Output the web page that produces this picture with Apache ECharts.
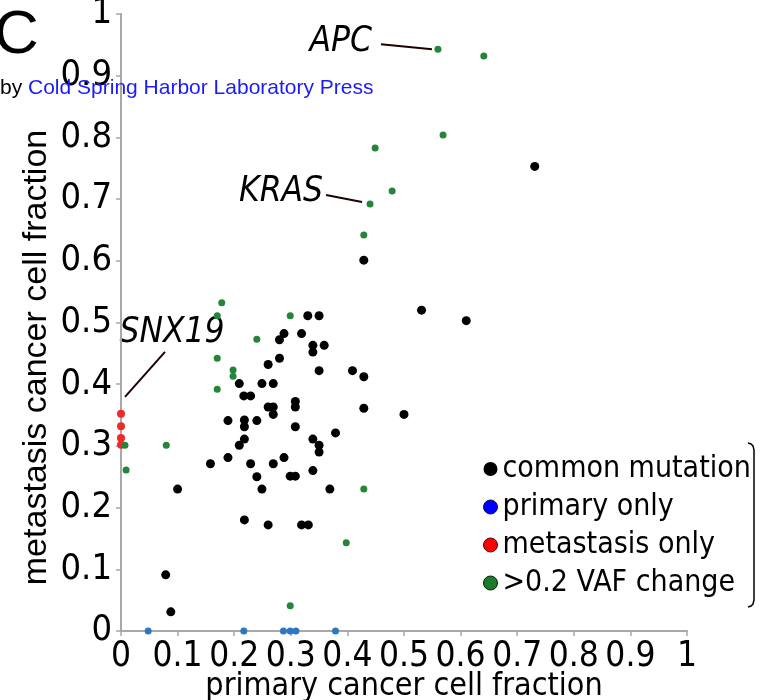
<!DOCTYPE html>
<html>
<head>
<meta charset="utf-8">
<script src="https://cdn.jsdelivr.net/npm/echarts@6/dist/echarts.min.js"></script>
<style>
  html, body { margin: 0; background: #fff; }
  #chart { width: 760px; height: 700px; }
</style>
</head>
<body>
<div id="chart"></div>
<script>
// values: [primary CCF, metastasis CCF]
const commonMutation = [
  [0.100, 0.230], [0.249, 0.230], [0.369, 0.230], [0.218, 0.180], [0.260, 0.172],
  [0.319, 0.172], [0.331, 0.172], [0.079, 0.091], [0.088, 0.031], [0.189, 0.341],
  [0.218, 0.342], [0.218, 0.331], [0.240, 0.341], [0.269, 0.351], [0.218, 0.311],
  [0.209, 0.301], [0.189, 0.281], [0.158, 0.271], [0.229, 0.271], [0.269, 0.271],
  [0.240, 0.250], [0.308, 0.331], [0.379, 0.321], [0.339, 0.311], [0.350, 0.301],
  [0.350, 0.290], [0.288, 0.281], [0.339, 0.260], [0.299, 0.251], [0.308, 0.251],
  [0.330, 0.511], [0.350, 0.511], [0.288, 0.482], [0.319, 0.482], [0.280, 0.472],
  [0.339, 0.463], [0.339, 0.452], [0.359, 0.463], [0.280, 0.442], [0.350, 0.422],
  [0.409, 0.422], [0.429, 0.412], [0.260, 0.432], [0.269, 0.401], [0.308, 0.372],
  [0.308, 0.363], [0.269, 0.363], [0.260, 0.363], [0.429, 0.361], [0.209, 0.401],
  [0.249, 0.401], [0.217, 0.381], [0.229, 0.381], [0.531, 0.520], [0.500, 0.351],
  [0.731, 0.753], [0.610, 0.503], [0.429, 0.601]
];
const primaryOnly = [
  [0.048, 0], [0.217, 0], [0.287, 0], [0.299, 0], [0.309, 0], [0.379, 0]
];
const metastasisOnly = [
  [0, 0.352], [0, 0.332], [0, 0.313], [0, 0.302]
];
const vafChange = [
  [0.560, 0.943], [0.641, 0.932], [0.569, 0.804], [0.449, 0.783], [0.479, 0.713],
  [0.440, 0.692], [0.429, 0.642], [0.178, 0.532], [0.170, 0.511], [0.299, 0.511],
  [0.240, 0.473], [0.170, 0.442], [0.198, 0.423], [0.198, 0.413], [0.170, 0.392],
  [0.007, 0.301], [0.080, 0.301], [0.009, 0.261], [0.429, 0.230], [0.398, 0.143],
  [0.299, 0.041]
];
const seriesNames = ['common mutation', 'primary only', 'metastasis only', '>0.2 VAF change'];
const genes = [
  { name: 'APC', point: [0.560, 0.943] },
  { name: 'KRAS', point: [0.440, 0.692] },
  { name: 'SNX19', point: [0, 0.352] }
];

const narrow = "'DejaVu Sans Condensed', 'Liberation Sans Narrow', sans-serif";
const regular = "'Liberation Sans', Arial, sans-serif";

const chart = echarts.init(document.getElementById('chart'));

const axisCommon = {
  type: 'value',
  min: 0,
  max: 1,
  interval: 0.1,
  splitLine: { show: false },
  axisLine: { show: true, lineStyle: { color: '#a8a8a8', width: 2 } },
  axisTick: { show: true, length: 5, lineStyle: { color: '#a8a8a8', width: 1.5 } },
  axisLabel: {
    color: '#000',
    fontFamily: narrow,
    fontSize: 36,
    formatter: v => String(+v.toFixed(1))
  },
  nameLocation: 'middle',
  nameMoveOverlap: false,
  nameTextStyle: { color: '#000' }
};

chart.setOption({
  animation: false,
  backgroundColor: '#fff',
  grid: { left: 121, right: 73, top: 14, bottom: 69, outerBoundsMode: 'none', containLabel: false },
  xAxis: Object.assign({}, axisCommon, {
    name: 'primary cancer cell fraction',
    nameGap: 40,
    nameTextStyle: { color: '#000', fontFamily: narrow, fontSize: 32 },
    axisLabel: Object.assign({}, axisCommon.axisLabel, { margin: 8, fontSize: 35 })
  }),
  yAxis: Object.assign({}, axisCommon, {
    name: 'metastasis cancer cell fraction',
    nameGap: 67,
    nameTextStyle: { color: '#000', fontFamily: regular, fontSize: 34, padding: [0, 70, 0, 0] },
    axisLabel: Object.assign({}, axisCommon.axisLabel, { margin: 9 })
  }),
  legend: {
    orient: 'vertical',
    left: 478,
    top: 449,
    itemWidth: 14,
    itemHeight: 14,
    itemGap: 8,
    icon: 'circle',
    textStyle: { color: '#000', fontFamily: narrow, fontSize: 30 },
    data: [
      { name: seriesNames[0], itemStyle: { color: '#000' } },
      { name: seriesNames[1], itemStyle: { color: '#0000ff', borderColor: '#101040', borderWidth: 1 } },
      { name: seriesNames[2], itemStyle: { color: '#ff0000', borderColor: '#401010', borderWidth: 1 } },
      { name: seriesNames[3], itemStyle: { color: '#1b7a2c', borderColor: '#0a200a', borderWidth: 1 } }
    ]
  },
  series: [
    { name: seriesNames[0], type: 'scatter', data: commonMutation, symbolSize: 9, clip: false,
      itemStyle: { color: '#000', opacity: 1 } },
    { name: seriesNames[1], type: 'scatter', data: primaryOnly, symbolSize: 7, clip: false,
      itemStyle: { color: '#2f76c2', opacity: 1 } },
    { name: seriesNames[2], type: 'scatter', data: metastasisOnly, symbolSize: 8, clip: false,
      itemStyle: { color: '#ee2a2a', opacity: 1 } },
    { name: seriesNames[3], type: 'scatter', data: vafChange, symbolSize: 7, clip: false,
      itemStyle: { color: '#23843a', opacity: 1 } }
  ]
});

// gene call-outs, placed relative to their points
const offsets = {
  APC:   { line: [[-57, -5], [-6, 0]], text: [-66, -7], align: 'right' },
  KRAS:  { line: [[-44, -9], [-8, -2]], text: [-47, -12], align: 'right' },
  SNX19: { line: [[44, -62], [4, -17]], text: [51, -81], align: 'center' }
};
const graphics = [];
genes.forEach(g => {
  const p = chart.convertToPixel({ gridIndex: 0 }, g.point);
  const o = offsets[g.name];
  graphics.push({
    type: 'line',
    shape: { x1: p[0] + o.line[0][0], y1: p[1] + o.line[0][1], x2: p[0] + o.line[1][0], y2: p[1] + o.line[1][1] },
    style: { stroke: '#200000', lineWidth: 2 }
  });
  graphics.push({
    type: 'text',
    x: p[0] + o.text[0],
    y: p[1] + o.text[1],
    style: {
      text: g.name, fill: '#000', font: 'italic 35px ' + narrow,
      align: o.align, verticalAlign: 'middle'
    }
  });
});

// panel letter, credit line and legend bracket
graphics.push({
  type: 'text', x: -6, y: 36,
  style: { text: 'C', fill: '#000', font: '62px ' + regular, verticalAlign: 'middle' }
});
graphics.push({
  type: 'text', x: 0, y: 88, z: 10,
  style: {
    text: '{a|by }{b|Cold Spring Harbor Laboratory Press}',
    verticalAlign: 'middle',
    rich: {
      a: { fill: '#000', fontFamily: regular, fontSize: 21 },
      b: { fill: '#1a1aff', fontFamily: regular, fontSize: 21 }
    }
  }
});
graphics.push({
  type: 'polyline',
  shape: { points: [[748, 443], [751, 444], [753, 446], [754, 450], [754, 600], [753, 604], [751, 606], [748, 607]] },
  style: { stroke: '#000', lineWidth: 1.5, fill: null }
});
chart.setOption({ graphic: graphics });
</script>
</body>
</html>
